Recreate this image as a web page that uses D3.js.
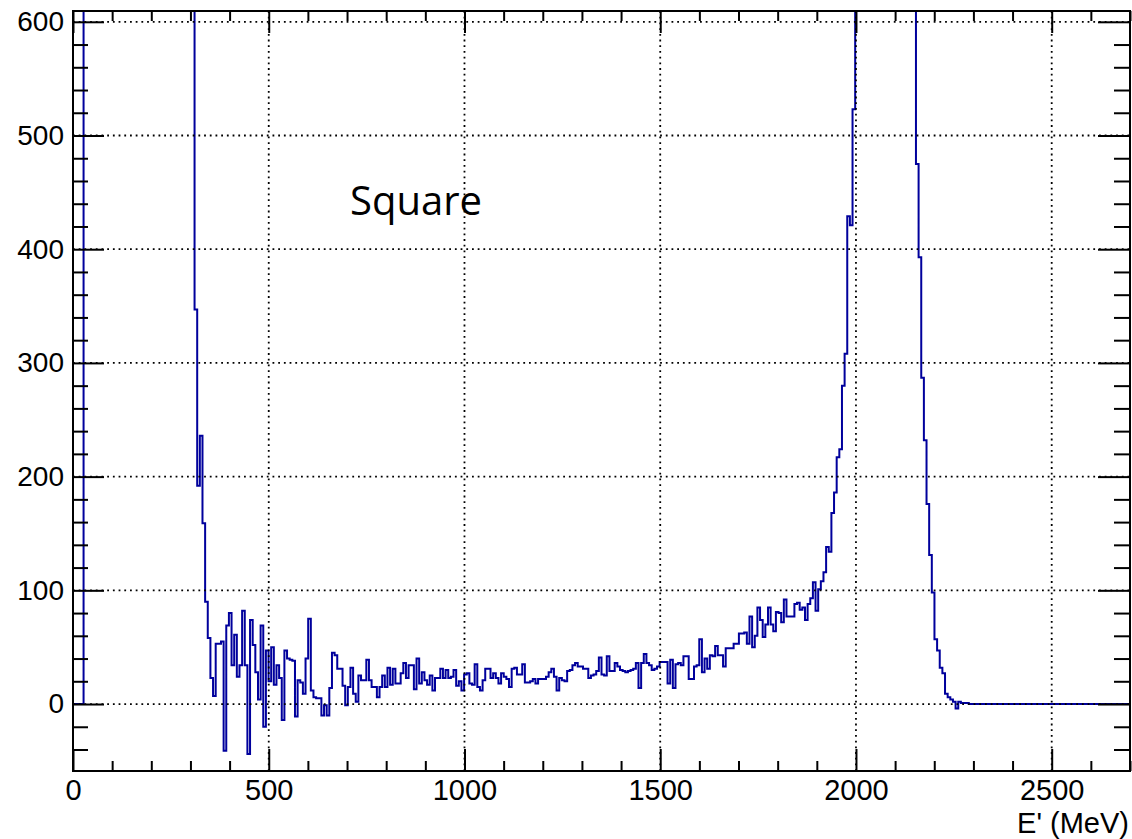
<!DOCTYPE html>
<html>
<head>
<meta charset="utf-8">
<script src="https://cdn.jsdelivr.net/npm/d3@7"></script>
<style>
  html, body { margin: 0; padding: 0; background: #ffffff; }
  svg { display: block; }
</style>
</head>
<body>
<svg id="chart" width="1132" height="839"></svg>
<script>
// Histogram binning: 400 bins of 6.75 MeV over 0-2700 MeV
const X_MIN = 0, X_MAX = 2700, N_BINS = 400;
const FIRST_FILLED_BIN = 4;

// Low-energy peak (bins 4-45), above the plotted range
const lowPeakCounts = [950, 2600, 4300, 5200, 5600, 5700, 5600, 5400, 5100, 4800,
  4500, 4200, 3900, 3600, 3350, 3100, 2850, 2650, 2450, 2250,
  2080, 1920, 1770, 1630, 1500, 1380, 1270, 1170, 1080, 1000,
  930, 870, 820, 780, 745, 715, 690, 670, 655, 640, 630, 620];

// Continuum and rising edge (bins 46-295)
const continuumCounts = [
  347, 192, 236, 159, 90, 58, 23, 7, 53, 53,
  55, -41, 69, 80, 34, 61, 24, 34, 82, 34,
  -44, 74, 52, 28, 4, 69, -20, 47, 20, 50,
  17, 34, 23, -14, 47, 40, 39, 38, -11, 21,
  19, 9, 40, 75, 12, 6, 5, 5, -10, -1,
  -10, 14, 45, 43, 31, 31, 16, -1, 15, 32,
  9, 2, 25, 21, 21, 39, 21, 15, 15, 6,
  15, 25, 15, 32, 17, 31, 18, 18, 27, 36,
  23, 34, 34, 13, 40, 18, 28, 21, 17, 25,
  12, 23, 23, 31, 23, 30, 23, 24, 30, 16,
  20, 12, 26, 27, 18, 17, 35, 15, 12, 21,
  31, 31, 23, 27, 23, 18, 27, 24, 22, 15,
  31, 32, 26, 26, 35, 19, 19, 20, 22, 18,
  22, 22, 22, 24, 28, 31, 24, 12, 23, 21,
  20, 29, 30, 34, 36, 33, 33, 31, 31, 23,
  25, 26, 29, 41, 26, 25, 42, 29, 29, 36,
  33, 30, 29, 28, 29, 30, 31, 36, 14, 36,
  44, 36, 34, 30, 31, 33, 37, 37, 37, 18,
  39, 14, 35, 36, 34, 42, 42, 22, 22, 33,
  34, 57, 28, 40, 31, 43, 42, 51, 43, 43,
  33, 49, 49, 49, 53, 53, 62, 62, 63, 53,
  77, 50, 60, 85, 74, 59, 70, 85, 70, 64,
  81, 80, 72, 92, 77, 77, 77, 88, 89, 83,
  85, 74, 88, 93, 107, 82, 101, 108, 116, 138,
  134, 168, 186, 217, 224, 280, 308, 429, 421, 523];

// Main peak (bins 296-318), above the plotted range
const edgePeakCounts = [700, 900, 1150, 1450, 1800, 2150, 2500, 2800, 3050, 3200,
  3250, 3200, 3050, 2800, 2500, 2150, 1800, 1500, 1200, 1000, 850, 740, 660];

// Falling edge and tail (bins 319-338); remaining bins are empty
const tailCounts = [475, 393, 287, 232, 176, 131, 98, 57, 47, 32,
  27, 9, 6, 4, 2, -4, 2, 1, 1, 1];

const xMajorTicks = [0, 500, 1000, 1500, 2000, 2500];
const yMajorTicks = [0, 100, 200, 300, 400, 500, 600];
const Y_MIN = -58.9, Y_MAX = 609.5;
const xTitle = "E' (MeV)";
const plotLabel = "Square";

// ---- assemble bin contents ----
const counts = new Array(N_BINS).fill(0);
[...lowPeakCounts, ...continuumCounts, ...edgePeakCounts, ...tailCounts]
  .forEach((c, k) => { counts[FIRST_FILLED_BIN + k] = c; });
const binWidth = (X_MAX - X_MIN) / N_BINS;

// ---- frame geometry ----
const frame = { left: 73, right: 1130, top: 11, bottom: 771 };
const x = d3.scaleLinear().domain([X_MIN, X_MAX]).range([frame.left, frame.right]);
const y = d3.scaleLinear().domain([Y_MIN, Y_MAX]).range([frame.bottom, frame.top]);

const svg = d3.select("#chart");
const FONT = "'Liberation Sans', Arial, Helvetica, sans-serif";
const LINE_BLUE = "#00009c";

svg.append("defs").append("clipPath").attr("id", "frameClip")
  .append("rect")
  .attr("x", frame.left).attr("y", frame.top)
  .attr("width", frame.right - frame.left).attr("height", frame.bottom - frame.top);

// ---- histogram outline ----
const stepPoints = counts.map((c, i) => [X_MIN + i * binWidth, c]);
stepPoints.push([X_MAX, counts[N_BINS - 1]]);
const stepLine = d3.line()
  .x(d => x(d[0]))
  .y(d => y(d[1]))
  .curve(d3.curveStepAfter);

svg.append("path")
  .attr("clip-path", "url(#frameClip)")
  .attr("d", stepLine(stepPoints))
  .attr("fill", "none")
  .attr("stroke", LINE_BLUE)
  .attr("stroke-width", 2)
  .attr("stroke-linejoin", "miter");

// ---- dotted grid at major ticks ----
const grid = svg.append("g")
  .attr("stroke", "#000")
  .attr("stroke-width", 1.8)
  .attr("stroke-dasharray", "1.8,3.9")
  .attr("fill", "none");
grid.selectAll("line.vg").data(xMajorTicks.filter(v => v > X_MIN)).join("line")
  .attr("class", "vg")
  .attr("x1", d => x(d)).attr("x2", d => x(d))
  .attr("y1", frame.bottom).attr("y2", frame.top);
grid.selectAll("line.hg").data(yMajorTicks).join("line")
  .attr("class", "hg")
  .attr("x1", frame.left).attr("x2", frame.right)
  .attr("y1", d => y(d)).attr("y2", d => y(d));

// ---- axes ----
const xMinorTicks = d3.range(X_MIN, X_MAX + 1, 100).filter(v => v % 500 !== 0);
const yMinorTicks = d3.range(-40, Y_MAX, 20).filter(v => v % 100 !== 0);

function styleAxis(g) {
  g.select(".domain").remove();
  g.selectAll(".tick line").attr("stroke", "#000").attr("stroke-width", 2);
  g.selectAll(".tick text")
    .attr("fill", "#000")
    .attr("font-family", FONT);
}

// bottom
svg.append("g").attr("transform", `translate(0,${frame.bottom})`)
  .call(d3.axisBottom(x).tickValues(xMajorTicks).tickSizeInner(-22).tickSizeOuter(0)
    .tickPadding(8).tickFormat(d3.format("d")))
  .call(styleAxis)
  .call(g => g.selectAll(".tick text").attr("font-size", 29));
svg.append("g").attr("transform", `translate(0,${frame.bottom})`)
  .call(d3.axisBottom(x).tickValues(xMinorTicks).tickSizeInner(-10).tickSizeOuter(0)
    .tickFormat(""))
  .call(styleAxis);

// top
svg.append("g").attr("transform", `translate(0,${frame.top})`)
  .call(d3.axisTop(x).tickValues(xMajorTicks).tickSizeInner(-22).tickSizeOuter(0).tickFormat(""))
  .call(styleAxis);
svg.append("g").attr("transform", `translate(0,${frame.top})`)
  .call(d3.axisTop(x).tickValues(xMinorTicks).tickSizeInner(-10).tickSizeOuter(0).tickFormat(""))
  .call(styleAxis);

// left
svg.append("g").attr("transform", `translate(${frame.left},0)`)
  .call(d3.axisLeft(y).tickValues(yMajorTicks).tickSizeInner(-31).tickSizeOuter(0)
    .tickPadding(9).tickFormat(d3.format("d")))
  .call(styleAxis)
  .call(g => g.selectAll(".tick text").attr("font-size", 28));
svg.append("g").attr("transform", `translate(${frame.left},0)`)
  .call(d3.axisLeft(y).tickValues(yMinorTicks).tickSizeInner(-15).tickSizeOuter(0).tickFormat(""))
  .call(styleAxis);

// right
svg.append("g").attr("transform", `translate(${frame.right},0)`)
  .call(d3.axisRight(y).tickValues(yMajorTicks).tickSizeInner(-32).tickSizeOuter(0).tickFormat(""))
  .call(styleAxis);
svg.append("g").attr("transform", `translate(${frame.right},0)`)
  .call(d3.axisRight(y).tickValues(yMinorTicks).tickSizeInner(-16).tickSizeOuter(0).tickFormat(""))
  .call(styleAxis);

// ---- frame ----
svg.append("rect")
  .attr("x", frame.left).attr("y", frame.top)
  .attr("width", frame.right - frame.left).attr("height", frame.bottom - frame.top)
  .attr("fill", "none").attr("stroke", "#000").attr("stroke-width", 2);

// ---- axis title ----
svg.append("text")
  .attr("x", frame.right - 1).attr("y", 833)
  .attr("text-anchor", "end")
  .attr("font-family", FONT).attr("font-size", 29)
  .attr("fill", "#000")
  .text(xTitle);

// ---- plot label ----
svg.append("text")
  .attr("x", 350).attr("y", 215)
  .attr("font-family", "'Open Sans', sans-serif").attr("font-size", 40)
  .attr("fill", "#000")
  .text(plotLabel);
</script>
</body>
</html>
